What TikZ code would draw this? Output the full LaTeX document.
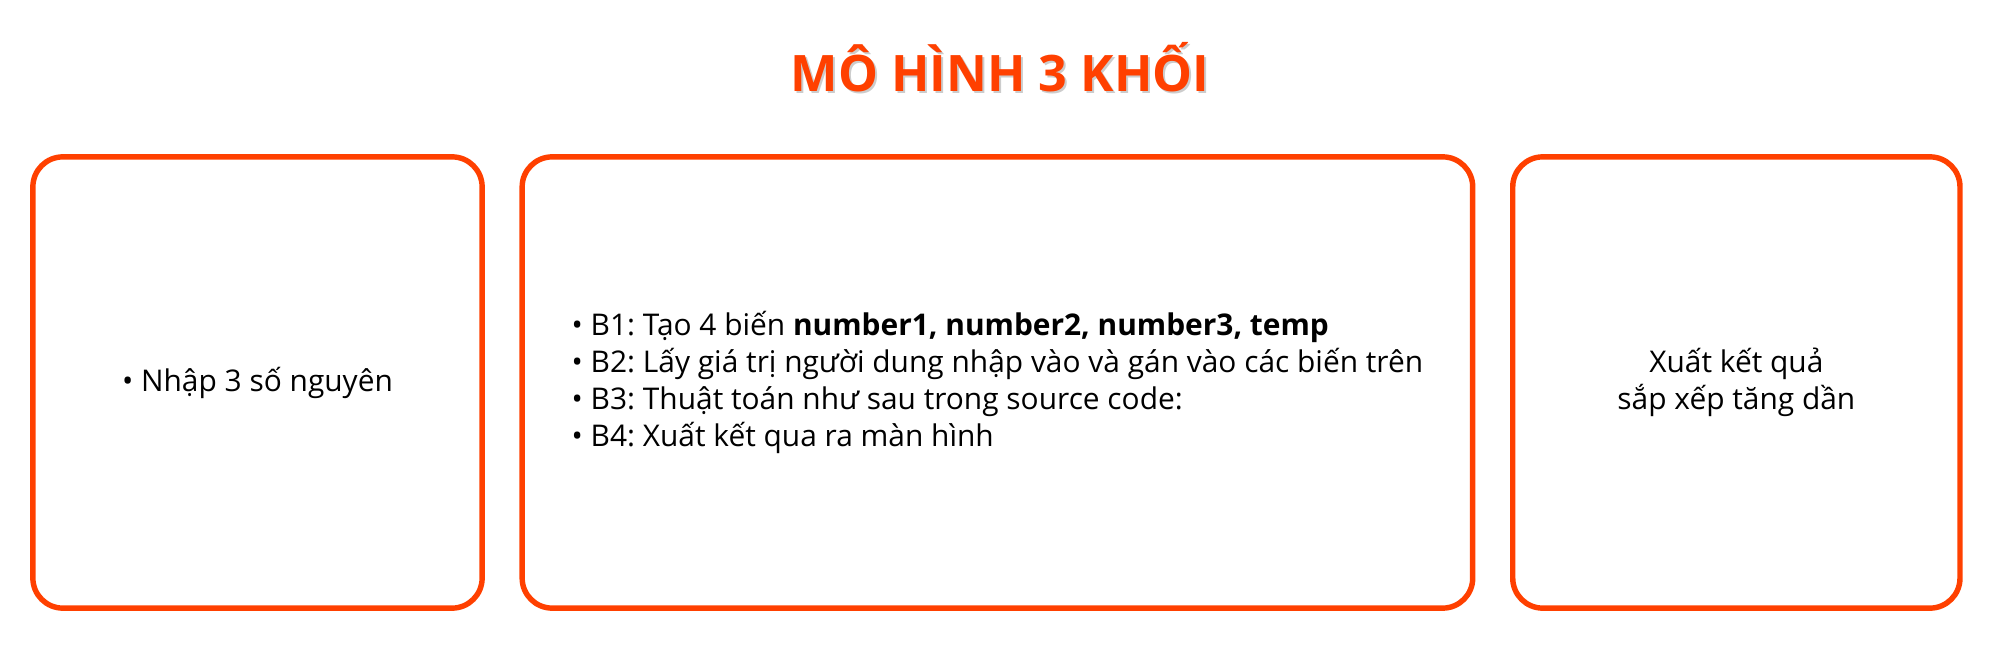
\documentclass[tikz,border=0pt]{standalone}
\usepackage{fontspec}
\setmainfont{Open Sans}
\usetikzlibrary{positioning}
\definecolor{cam}{RGB}{255,64,0}
\frenchspacing

\begin{document}
\begin{tikzpicture}[x=0.01cm,y=-0.01cm,
  khoi/.style={draw=cam,line width=1.55pt,rounded corners=3mm,outer sep=0pt,
    inner sep=0pt,minimum height=4.51cm},
  chu/.style={font=\fontsize{8.5}{10.45}\selectfont},
  tieu/.style={font=\bfseries\fontsize{14.3}{17}\selectfont}]
\useasboundingbox (0,0) rectangle (2000,664);
% tieu de
\node[tieu,text=black!20] (bong) at (1002,69.5) {MÔ HÌNH 3 KHỐI};
\node[tieu,text=cam] (tieude) at (1000,67) {MÔ HÌNH 3 KHỐI};
% ba khoi
\node[khoi,chu,minimum width=4.49cm] (nhap) at (257.5,382.5) {• Nhập 3 số nguyên};
\node[khoi,chu,minimum width=9.5cm,align=left,right=0.4cm of nhap] (xuly)
  {• B1: Tạo 4 biến \textbf{number1, number2, number3, temp}\\
   • B2: Lấy giá trị người dung nhập vào và gán vào các biến trên\\
   • B3: Thuật toán như sau trong source code:\\
   • B4: Xuất kết qua ra màn hình};
\node[khoi,chu,minimum width=4.47cm,align=center,right=0.4cm of xuly] (xuat)
  {Xuất kết quả\\sắp xếp tăng dần};
\end{tikzpicture}
\end{document}
